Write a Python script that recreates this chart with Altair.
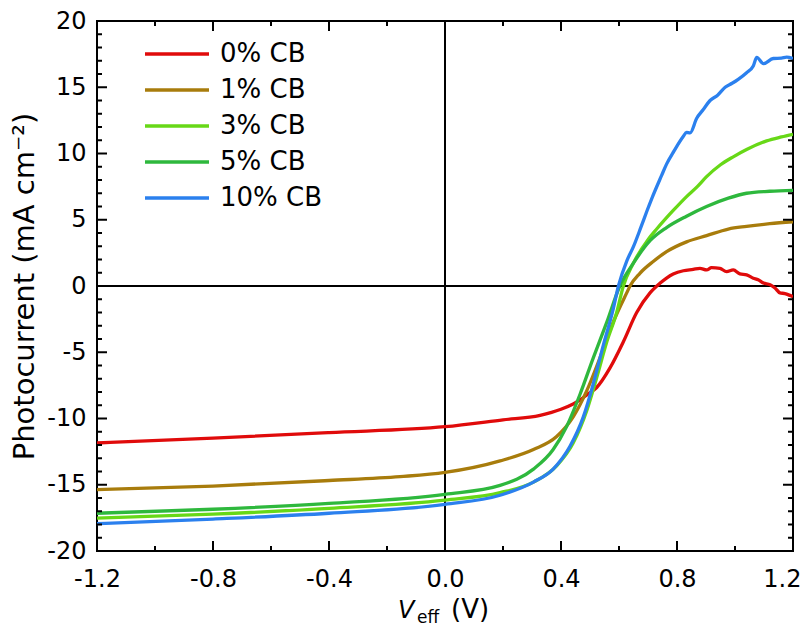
import altair as alt
import pandas as pd

series_names = ["0% CB", "1% CB", "3% CB", "5% CB", "10% CB"]
series_colors = ["#e00b0b", "#a87c0c", "#67d817", "#2eb83d", "#2b80ee"]

v_cb0 = [-1.2, -0.8, -0.4, 0.0, 0.2, 0.328, 0.4, 0.442, 0.466, 0.49, 0.523, 0.569, 0.615, 0.661,
         0.707, 0.741, 0.764, 0.787, 0.822, 0.856, 0.879, 0.902, 0.919, 0.948, 0.971, 0.994, 1.017,
         1.04, 1.063, 1.08, 1.098, 1.121, 1.138, 1.155, 1.172, 1.195, 1.2]
j_cb0 = [-11.85, -11.48, -11.06, -10.62, -10.1, -9.76, -9.3, -8.9, -8.6, -8.2, -7.66, -6.18, -4.21, -2.0,
         -0.52, 0.2, 0.6, 0.9, 1.15, 1.25, 1.33, 1.21, 1.38, 1.33, 1.08, 1.21, 0.91,
         0.84, 0.59, 0.47, 0.22, 0.1, -0.15, -0.52, -0.57, -0.76, -0.8]

v_cb1 = [-1.2, -0.8, -0.4, -0.155, 0.0, 0.19, 0.305, 0.385, 0.442, 0.489, 0.534, 0.58, 0.627, 0.638,
         0.672, 0.718, 0.764, 0.833, 0.902, 0.977, 1.04, 1.12, 1.2]
j_cb1 = [-15.37, -15.1, -14.68, -14.39, -14.07, -13.2, -12.34, -11.36, -9.88, -7.9, -5.44, -2.73, -0.5, 0.0,
         0.96, 1.85, 2.59, 3.33, 3.8, 4.3, 4.5, 4.7, 4.85]

v_cb3 = [-1.2, -0.8, -0.4, 0.0, 0.19, 0.305, 0.385, 0.442, 0.489, 0.523, 0.558, 0.592, 0.615, 0.649,
         0.70, 0.73, 0.787, 0.833, 0.87, 0.902, 0.95, 0.994, 1.04, 1.109, 1.16, 1.2]
j_cb3 = [-17.52, -17.22, -16.78, -16.16, -15.6, -14.8, -13.57, -11.85, -9.39, -6.92, -4.21, -2.0, 0.0, 1.7,
         3.5, 4.3, 5.7, 6.75, 7.5, 8.25, 9.15, 9.75, 10.3, 10.95, 11.25, 11.45]

v_cb5 = [-1.2, -0.8, -0.4, 0.0, 0.19, 0.305, 0.373, 0.419, 0.466, 0.511, 0.558, 0.603, 0.649, 0.707,
         0.764, 0.833, 0.902, 0.977, 1.04, 1.12, 1.2]
j_cb5 = [-17.15, -16.85, -16.41, -15.72, -15.05, -13.82, -12.34, -10.62, -8.15, -5.44, -2.73, 0.0, 1.7, 3.42,
         4.41, 5.27, 6.0, 6.63, 7.0, 7.15, 7.22]

v_cb10 = [-1.2, -0.8, -0.4, 0.0, 0.19, 0.305, 0.373, 0.431, 0.477, 0.511, 0.546, 0.58, 0.598, 0.627,
          0.649, 0.675, 0.696, 0.713, 0.747, 0.764, 0.79, 0.822, 0.833, 0.845, 0.868, 0.89, 0.914,
          0.94, 0.966, 0.99, 1.011, 1.04, 1.063, 1.075, 1.098, 1.132, 1.16, 1.178, 1.2]
j_cb10 = [-17.94, -17.59, -17.15, -16.48, -15.79, -14.8, -13.82, -12.1, -9.88, -7.41, -4.46, -1.75, 0.0, 1.9,
          2.93, 4.4, 5.64, 6.6, 8.35, 9.2, 10.2, 11.3, 11.6, 11.55, 12.66, 13.3, 14.0,
          14.4, 15.0, 15.3, 15.6, 16.1, 16.6, 17.25, 16.78, 17.17, 17.2, 17.27, 17.17]

x_major = [-1.2, -0.8, -0.4, 0.0, 0.4, 0.8, 1.2]
x_minor = [-1.0, -0.6, -0.2, 0.2, 0.6, 1.0]
y_major = [-20, -15, -10, -5, 0, 5, 10, 15, 20]
y_minor = [-19, -18, -17, -16, -14, -13, -12, -11, -9, -8, -7, -6, -4, -3, -2, -1,
           1, 2, 3, 4, 6, 7, 8, 9, 11, 12, 13, 14, 16, 17, 18, 19]

W, H = 696, 530
FONT = "DejaVu Sans"

rows = []
for name, vs, js in zip(series_names, [v_cb0, v_cb1, v_cb3, v_cb5, v_cb10],
                        [j_cb0, j_cb1, j_cb3, j_cb5, j_cb10]):
    for i, (v, j) in enumerate(zip(vs, js)):
        rows.append({"series": name, "V": v, "J": j, "order": i})
df = pd.DataFrame(rows)

xs = alt.Scale(domain=[-1.2, 1.2], nice=False, zero=False)
ys = alt.Scale(domain=[-20, 20], nice=False, zero=False)

lines = alt.Chart(df).mark_line(strokeWidth=3.3, interpolate="monotone", clip=True).encode(
    x=alt.X("V:Q", scale=xs, axis=alt.Axis(
        values=x_major, title=None, labelFlush=False,
        labelAlign={"condition": {"test": "datum.value > 1.1", "value": "right"}, "value": "center"},
        labelOffset={"condition": {"test": "datum.value > 1.1", "value": 8}, "value": 0},
        labelExpr="(datum.value < 0 ? '-' : '') + format(abs(datum.value), '.1f')")),
    y=alt.Y("J:Q", scale=ys, axis=alt.Axis(
        values=y_major, title="Photocurrent (mA cm⁻²)",
        labelExpr="(datum.value < 0 ? '-' : '') + format(abs(datum.value), 'd')")),
    color=alt.Color("series:N", scale=alt.Scale(domain=series_names, range=series_colors),
                    legend=alt.Legend(orient="none", legendX=46, legendY=15, clipHeight=36,
                                      symbolType="stroke", symbolSize=4096, symbolStrokeWidth=3.5,
                                      labelFont=FONT, labelFontSize=26, labelColor="black",
                                      labelOffset=9, title=None, padding=0, rowPadding=0)),
    order="order:Q",
)

def xticks(vals, y0, y1):
    return alt.Chart(pd.DataFrame({"V": vals})).mark_rule(color="black", strokeWidth=2).encode(
        x="V:Q", y=alt.value(y0), y2=alt.value(y1))

def yticks(vals, x0, x1):
    return alt.Chart(pd.DataFrame({"J": vals})).mark_rule(color="black", strokeWidth=2).encode(
        y="J:Q", x=alt.value(x0), x2=alt.value(x1))

ticks = [
    xticks(x_major, H, H - 10), xticks(x_minor, H, H - 5),
    xticks(x_major, 0, 10), xticks(x_minor, 0, 5),
    yticks(y_major, 0, 10), yticks(y_minor, 0, 5),
    yticks(y_major, W, W - 10), yticks(y_minor, W, W - 5),
]

zero_v = alt.Chart(pd.DataFrame({"V": [0.0]})).mark_rule(color="black", strokeWidth=2).encode(
    x="V:Q", y=alt.value(0), y2=alt.value(H))
zero_h = alt.Chart(pd.DataFrame({"J": [0.0]})).mark_rule(color="black", strokeWidth=2).encode(
    y="J:Q", x=alt.value(0), x2=alt.value(W))

t_v = alt.Chart(pd.DataFrame({"t": ["V"]})).mark_text(
    font=FONT, fontSize=24, fontStyle="italic", align="left", baseline="alphabetic", color="black"
).encode(text="t:N", x=alt.value(301), y=alt.value(597))
t_eff = alt.Chart(pd.DataFrame({"t": ["eff"]})).mark_text(
    font=FONT, fontSize=17, align="left", baseline="alphabetic", color="black"
).encode(text="t:N", x=alt.value(320), y=alt.value(602))
t_unit = alt.Chart(pd.DataFrame({"t": ["(V)"]})).mark_text(
    font=FONT, fontSize=26, align="left", baseline="alphabetic", color="black"
).encode(text="t:N", x=alt.value(354), y=alt.value(597))

chart = alt.layer(zero_v, zero_h, lines, *ticks, t_v, t_eff, t_unit).properties(
    width=W, height=H,
    autosize=alt.AutoSizeParams(type="none"),
    padding={"left": 89, "top": 13, "right": 10, "bottom": 77},
    background="white",
).configure_view(
    stroke="black", strokeWidth=2
).configure_axis(
    labelFont=FONT, labelFontSize=24, labelColor="black",
    titleFont=FONT, titleFontSize=29, titleFontWeight="normal", titleColor="black",
    grid=False, ticks=False, tickSize=0, domain=False,
).configure_axisX(labelPadding=16).configure_axisY(labelPadding=11, titlePadding=7)

chart.save("out.html", embed_options={"renderer": "svg", "actions": False})
